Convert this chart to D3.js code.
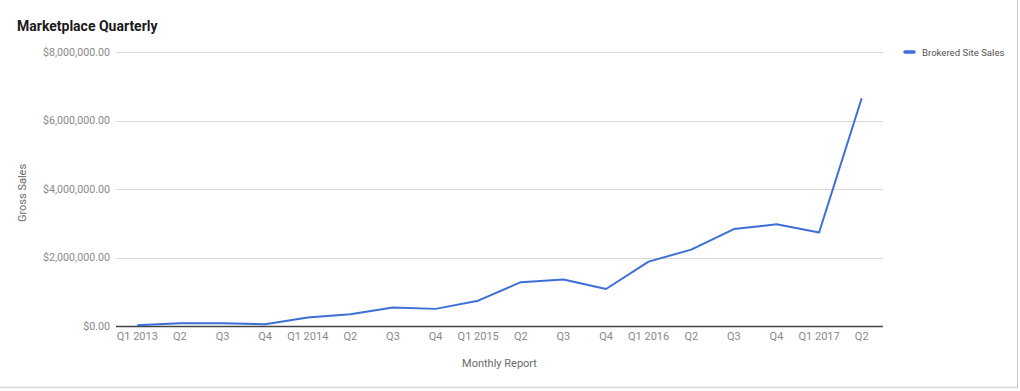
<!DOCTYPE html>
<html>
<head>
<meta charset="utf-8">
<script src="https://cdn.jsdelivr.net/npm/d3@7"></script>
<style>
  html, body { margin: 0; padding: 0; background: #fff; }
  svg { display: block; font-family: Roboto, "Noto Sans", Arial, sans-serif; }
</style>
</head>
<body>
<svg id="chart" width="1020" height="391"></svg>
<script>
const categories = ["Q1 2013","Q2","Q3","Q4","Q1 2014","Q2","Q3","Q4","Q1 2015","Q2","Q3","Q4","Q1 2016","Q2","Q3","Q4","Q1 2017","Q2"];
const sales = [20000, 80000, 80000, 50000, 250000, 340000, 540000, 500000, 740000, 1280000, 1360000, 1080000, 1880000, 2230000, 2830000, 2970000, 2730000, 6650000];
const yTicks = [0, 2000000, 4000000, 6000000, 8000000];
const seriesName = "Brokered Site Sales";
const title = "Marketplace Quarterly";
const xTitle = "Monthly Report";
const yTitle = "Gross Sales";

const svg = d3.select("#chart");
const margin = {left: 116, right: 137, top: 52, bottom: 65};
const W = 1020, H = 391;
const plotL = margin.left, plotR = W - margin.right, plotT = margin.top, plotB = H - margin.bottom;

const x = d3.scaleBand().domain(d3.range(categories.length)).range([plotL, plotR]).paddingInner(0).paddingOuter(0);
const y = d3.scaleLinear().domain([0, 8000000]).range([plotB, plotT]);

// page decoration (spreadsheet frame)
svg.append("line").attr("x1", 0).attr("x2", 1017).attr("y1", 387.5).attr("y2", 387.5).attr("stroke", "#d9d9d9").attr("stroke-width", 1.5);
svg.append("line").attr("x1", 1017.5).attr("x2", 1017.5).attr("y1", 0).attr("y2", 388).attr("stroke", "#c8c8c8").attr("stroke-width", 1);

// title
svg.append("text").attr("x", 17).attr("y", 31).attr("font-size", 14).attr("font-weight", "bold").attr("fill", "#1a1a1a").text(title);

// gridlines
const fmt = d => "$" + d3.format(",.2f")(d);
svg.append("g").selectAll("line").data(yTicks.filter(d => d !== 0)).join("line")
  .attr("x1", plotL).attr("x2", plotR).attr("y1", d => Math.round(y(d)) + 0.5).attr("y2", d => Math.round(y(d)) + 0.5)
  .attr("stroke", "#d9d9d9").attr("stroke-width", 1);

// y axis labels
const yAxis = d3.axisLeft(y).tickValues(yTicks).tickFormat(fmt).tickSize(0).tickPadding(6);
const gy = svg.append("g").attr("transform", `translate(${plotL},0)`).call(yAxis);
gy.select(".domain").remove();
gy.selectAll("text").attr("font-size", 10.7).attr("fill", "#8a8a8a").attr("font-family", "Roboto, sans-serif");

// x axis labels
const xAxis = d3.axisBottom(x).tickFormat(i => categories[i]).tickSize(0).tickPadding(6);
const gx = svg.append("g").attr("transform", `translate(0,${plotB})`).call(xAxis);
gx.select(".domain").remove();
gx.selectAll("text").attr("font-size", 11).attr("fill", "#8a8a8a").attr("font-family", "Roboto, sans-serif");

// baseline
svg.append("line").attr("x1", plotL).attr("x2", plotR).attr("y1", Math.round(y(0)) + 0.5).attr("y2", Math.round(y(0)) + 0.5)
  .attr("stroke", "#444").attr("stroke-width", 1.3);

// line
const line = d3.line().x((d, i) => x(i) + x.bandwidth() / 2).y(d => y(d));
svg.append("path").datum(sales).attr("d", line).attr("fill", "none").attr("stroke", "#3c6fd7").attr("stroke-width", 2).attr("stroke-linejoin", "round");

// axis titles
svg.append("text").attr("x", (plotL + plotR) / 2).attr("y", 367).attr("text-anchor", "middle").attr("font-size", 11).attr("fill", "#6a6a6a").text(xTitle);
svg.append("text").attr("transform", `translate(26,${(plotT + plotB) / 2 + 4}) rotate(-90)`).attr("text-anchor", "middle").attr("font-size", 11).attr("fill", "#6a6a6a").text(yTitle);

// legend
const lg = svg.append("g").attr("transform", "translate(905,52)");
lg.append("line").attr("x1", 0).attr("x2", 9).attr("y1", 0).attr("y2", 0).attr("stroke", "#3c6fd7").attr("stroke-width", 3.5).attr("stroke-linecap", "round");
lg.append("text").attr("x", 17).attr("y", 3.5).attr("font-size", 9.6).attr("fill", "#555").text(seriesName);
</script>
</body>
</html>
